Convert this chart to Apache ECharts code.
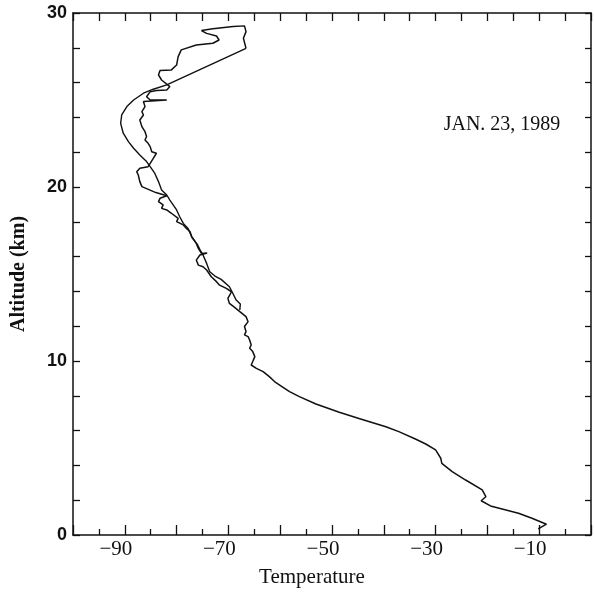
<!DOCTYPE html>
<html>
<head>
<meta charset="utf-8">
<script src="https://cdn.jsdelivr.net/npm/echarts@6/dist/echarts.min.js"></script>
<style>
  html, body { margin: 0; padding: 0; background: #fff; }
  #chart { width: 594px; height: 594px; }
</style>
</head>
<body>
<div id="chart"></div>
<script>
// ascent sounding (jagged trace), bottom to top: temperature (deg C) / altitude (km)
const ascentTemp = [
  -10.2, -8.6, -11.4, -14.0, -19.4, -21.2, -20.3, -21.0, -24.2, -26.8,
  -28.8, -29.0, -30.0, -31.9, -33.8, -37.1, -39.6, -44.8, -48.6, -53.1,
  -56.3, -58.2, -60.1, -61.1, -62.1, -63.3, -64.6, -65.6, -65.3, -64.9,
  -65.3, -65.9, -65.6, -65.9, -66.2, -66.9, -66.6, -66.9, -66.2, -66.6,
  -67.8, -68.8, -69.8, -70.1, -69.4, -70.4, -71.7, -72.3, -73.3, -74.2,
  -74.9, -75.8, -76.2, -75.5, -74.1, -75.2, -75.8, -76.2, -77.1, -77.4,
  -78.1, -78.7, -80.0, -79.7, -81.0, -81.9, -82.9, -82.6, -83.5, -83.2,
  -81.9, -84.0, -86.7, -87.1, -87.4, -87.7, -87.1, -85.5, -85.1, -84.5,
  -83.9, -84.8, -85.1, -85.5, -86.1, -85.8, -86.1, -86.7, -87.1, -86.4,
  -86.7, -86.1, -86.4, -81.9, -85.1, -85.8, -85.1, -83.9, -81.9, -81.3,
  -82.9, -83.5, -83.2, -81.0, -80.0, -79.7, -79.1, -76.2, -73.0, -71.8,
  -72.3, -74.2, -75.2, -73.0, -69.1, -66.9, -66.6, -67.1, -66.6
];
const ascentAlt = [
  0.35, 0.62, 0.96, 1.25, 1.67, 1.97, 2.2, 2.59, 3.16, 3.64,
  4.12, 4.41, 4.89, 5.23, 5.5, 5.94, 6.22, 6.7, 7.05, 7.53,
  7.95, 8.24, 8.62, 8.82, 9.1, 9.39, 9.58, 9.77, 9.97, 10.25,
  10.54, 10.73, 10.92, 11.21, 11.4, 11.5, 11.69, 11.98, 12.26, 12.55,
  12.84, 13.08, 13.31, 13.6, 13.98, 14.17, 14.36, 14.56, 14.84, 15.23,
  15.42, 15.51, 15.8, 16.09, 16.2, 16.18, 16.47, 16.76, 17.14, 17.43,
  17.62, 17.82, 18.01, 18.2, 18.49, 18.68, 18.77, 18.97, 19.16, 19.35,
  19.5, 19.68, 20.02, 20.31, 20.69, 20.88, 21.08, 21.17, 21.36, 21.65,
  21.94, 22.03, 22.32, 22.51, 22.7, 22.9, 23.18, 23.47, 23.85, 24.14,
  24.33, 24.62, 24.91, 25.0, 25.0, 25.19, 25.48, 25.54, 25.58, 25.77,
  26.15, 26.44, 26.69, 26.73, 27.01, 27.49, 27.88, 28.16, 28.26, 28.45,
  28.68, 28.83, 28.99, 29.1, 29.22, 29.26, 28.93, 28.55, 27.97
];
// descent (smooth trace), top to bottom
const descentTemp = [
  -66.6, -81.9, -84.5, -86.4, -88.3, -89.6, -90.6, -90.8, -90.3, -89.3,
  -88.3, -87.1, -85.8, -85.1, -84.2, -83.5, -82.9, -81.9, -81.3, -80.0,
  -79.4, -78.7, -77.8, -77.0, -76.0, -75.5, -74.9, -74.2, -73.6, -72.6,
  -71.4, -69.8, -69.2, -68.5, -67.7, -67.8
];
const descentAlt = [
  27.97, 25.87, 25.62, 25.39, 25.0, 24.62, 24.14, 23.66, 23.09, 22.61,
  22.23, 21.84, 21.46, 21.17, 20.78, 20.31, 19.83, 19.54, 19.25, 18.68,
  18.29, 17.91, 17.62, 17.1, 16.7, 16.4, 16.09, 15.61, 15.13, 14.88,
  14.69, 14.27, 13.92, 13.5, 13.27, 12.93
];
const xLabelValues = [-90, -70, -50, -30, -10];
const yLabelValues = [0, 10, 20, 30];
const dateText = 'JAN. 23, 1989';

function pairs(xs, ys) {
  return xs.map((x, i) => [x, ys[i]]);
}

const chart = echarts.init(document.getElementById('chart'));

const serif = 'Liberation Serif';
const ink = '#111';

const option = {
  animation: false,
  grid: { left: 73, right: 1, top: 13, bottom: 59 },
  xAxis: [
    {
      type: 'value',
      min: -100,
      max: 0,
      interval: 10,
      name: 'Temperature',
      nameLocation: 'middle',
      nameGap: 32,
      nameTextStyle: { fontFamily: serif, fontSize: 21, color: ink, padding: [0, 40, 0, 0] },
      axisLine: { onZero: false, lineStyle: { color: ink, width: 1.5 } },
      axisTick: { inside: true, length: 10, lineStyle: { color: ink, width: 1.3 } },
      minorTick: { show: true, splitNumber: 2, length: 6, lineStyle: { color: ink, width: 1.3 } },
      splitLine: { show: false },
      axisLabel: {
        fontFamily: serif, fontSize: 21, color: ink, margin: 4,
        padding: [0, 18, 0, 0],
        formatter: v => (xLabelValues.includes(v) ? '\u2212' + Math.abs(v) : '')
      }
    },
    {
      type: 'value',
      position: 'top',
      min: -100,
      max: 0,
      interval: 5,
      axisLine: { onZero: false, lineStyle: { color: ink, width: 1.5 } },
      axisTick: { inside: true, length: 8, lineStyle: { color: ink, width: 1.3 } },
      splitLine: { show: false },
      axisLabel: { show: false }
    }
  ],
  yAxis: [
    {
      type: 'value',
      min: 0,
      max: 30,
      interval: 2,
      name: 'Altitude (km)',
      nameLocation: 'middle',
      nameGap: 44,
      nameTextStyle: { fontFamily: serif, fontSize: 20, fontWeight: 'bold', color: ink },
      axisLine: { onZero: false, lineStyle: { color: ink, width: 1.5 } },
      axisTick: { inside: true, length: 7, lineStyle: { color: ink, width: 1.3 } },
      splitLine: { show: false },
      axisLabel: {
        fontFamily: 'Liberation Sans', fontWeight: 'bold', fontSize: 18, color: ink, margin: 6,
        formatter: v => (yLabelValues.includes(v) ? String(v) : '')
      }
    },
    {
      type: 'value',
      position: 'right',
      min: 0,
      max: 30,
      interval: 2,
      axisLine: { onZero: false, lineStyle: { color: ink, width: 1.5 } },
      axisTick: { inside: true, length: 6, lineStyle: { color: ink, width: 1.3 } },
      splitLine: { show: false },
      axisLabel: { show: false }
    }
  ],
  graphic: [
    {
      type: 'text',
      x: 502,
      y: 125,
      style: {
        text: dateText,
        fontFamily: serif,
        fontSize: 20,
        fill: ink,
        align: 'center',
        verticalAlign: 'middle'
      }
    }
  ],
  series: [
    {
      name: 'ascent',
      type: 'line',
      xAxisIndex: 0,
      yAxisIndex: 0,
      showSymbol: false,
      lineStyle: { color: ink, width: 1.5 },
      data: pairs(ascentTemp, ascentAlt)
    },
    {
      name: 'descent',
      type: 'line',
      xAxisIndex: 0,
      yAxisIndex: 0,
      showSymbol: false,
      lineStyle: { color: ink, width: 1.4 },
      data: pairs(descentTemp, descentAlt)
    }
  ]
};

chart.setOption(option);
</script>
</body>
</html>
